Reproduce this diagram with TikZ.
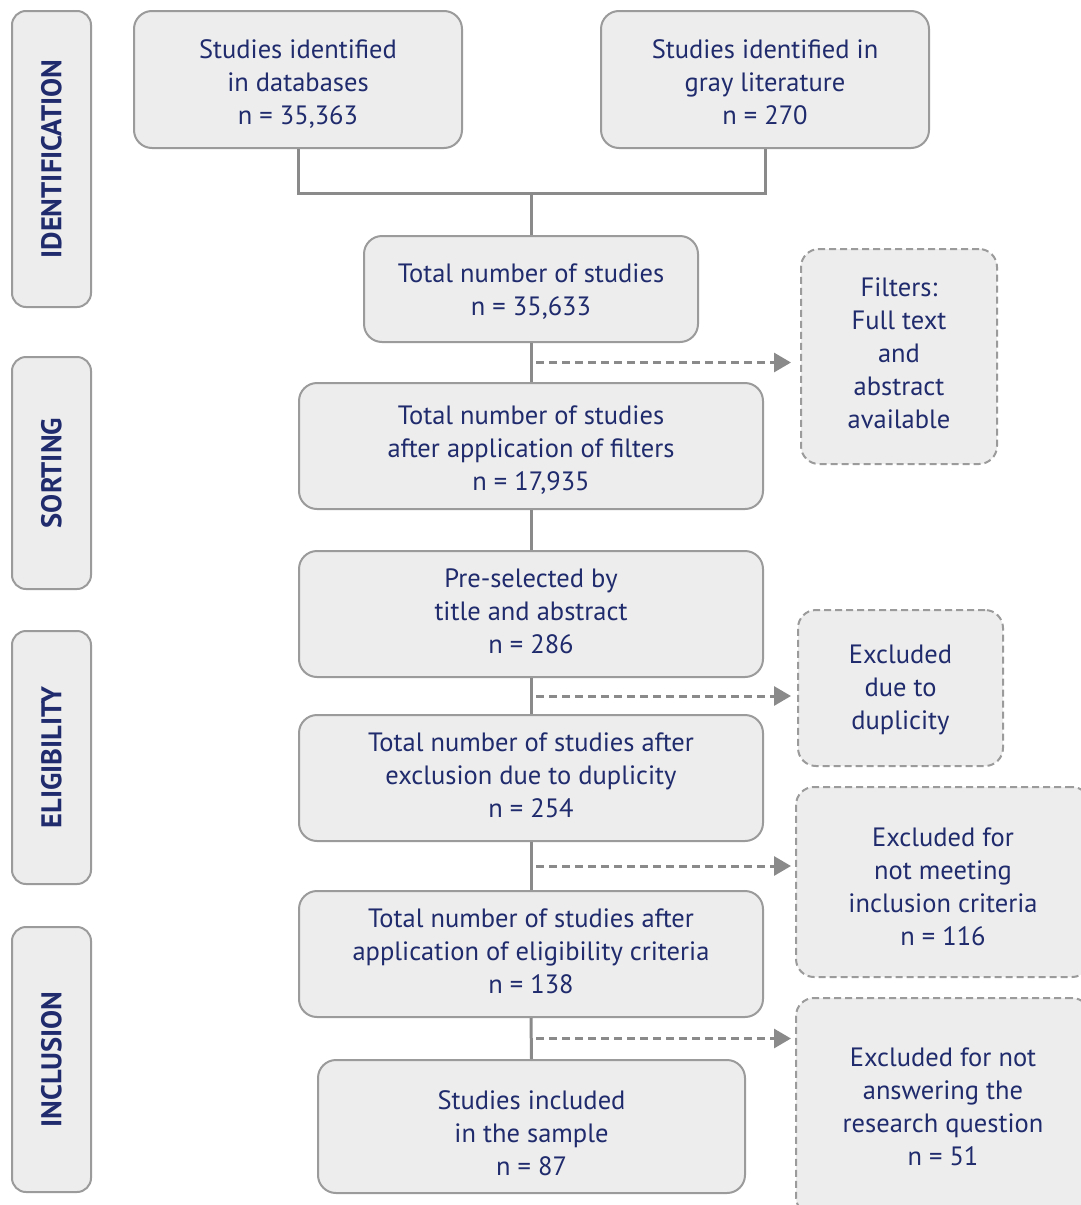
\documentclass[tikz,border=0pt]{standalone}
\usepackage{fontspec}
\setmainfont{PT Sans}
\usetikzlibrary{arrows.meta,calc,backgrounds}
\definecolor{navy}{HTML}{1F2B6C}
\definecolor{boxfill}{HTML}{EDEDED}
\definecolor{boxline}{HTML}{9B9B9B}
\definecolor{conn}{HTML}{8A8A8A}
\begin{document}
\begin{tikzpicture}[x=1pt,y=-1pt,
  box/.style={draw=boxline, line width=2pt, fill=boxfill, rounded corners=18pt, align=center, text=navy, font=\fontsize{26.5}{33}\selectfont, inner sep=0pt, text depth=0pt},
  th/.style={text height=#1pt},
  dbox/.style={box, dash pattern=on 7pt off 4pt},
  side/.style={draw=boxline, line width=2pt, fill=boxfill, rounded corners=14pt, text=navy, font=\fontsize{28.5}{30}\selectfont\bfseries, inner sep=0pt, rotate=90, minimum height=79pt},
  conn/.style={draw=conn, line width=3pt},
  darrow/.style={draw=conn, line width=3pt, dash pattern=on 8pt off 5pt, -{Triangle[length=17pt,width=19pt]}}]
\useasboundingbox (0,0) rectangle (1080,1205);
% side labels
\node[side, minimum width=296pt] (sid) at (51.5,159) {IDENTIFICATION};
\node[side, minimum width=232pt] (sso) at (51.5,473) {SORTING};
\node[side, minimum width=253pt] (sel) at (51.5,757.5) {ELIGIBILITY};
\node[side, minimum width=265pt] (sin) at (51.5,1059.5) {INCLUSION};
% main boxes
\node[box, th=89, minimum width=328pt, minimum height=137pt] (db) at (298,79.5) {Studies identified\\in databases\\n = 35,363};
\node[box, th=89, minimum width=328pt, minimum height=137pt] (gl) at (765,79.5) {Studies identified in\\gray literature\\n = 270};
\node[box, th=52, minimum width=334pt, minimum height=106pt] (tot) at (531,289) {Total number of studies\\n = 35,633};
\node[box, th=89, minimum width=464pt, minimum height=126pt] (flt) at (531,446) {Total number of studies\\after application of filters\\n = 17,935};
\node[box, th=78, minimum width=464pt, minimum height=126pt] (pre) at (531,614) {Pre-selected by\\title and abstract\\n = 286};
\node[box, th=79, minimum width=464pt, minimum height=126pt] (dup) at (531,778) {Total number of studies after\\exclusion due to duplicity\\n = 254};
\node[box, th=78, minimum width=464pt, minimum height=126pt] (elg) at (531,954) {Total number of studies after\\application of eligibility criteria\\n = 138};
\node[box, th=98, minimum width=427pt, minimum height=133pt] (inc) at (531.5,1126.5) {Studies included\\in the sample\\n = 87};
% dashed boxes
\node[dbox, th=144, minimum width=196pt, minimum height=215pt] (xfl) at (899,356.5) {Filters:\\Full text\\and\\abstract\\available};
\node[dbox, th=83, minimum width=205pt, minimum height=156pt] (xdu) at (900.5,688) {Excluded\\due to\\duplicity};
\node[dbox, th=127, minimum width=294pt, minimum height=190pt] (xin) at (943,882) {Excluded for\\not meeting\\inclusion criteria\\n = 116};
\node[dbox, th=117, minimum width=294pt, minimum height=217pt] (xrq) at (943,1106.5) {Excluded for not\\answering the\\research question\\n = 51};
% connectors
\coordinate (j) at (531,193);
\draw[conn] (db.south) |- (j) -| (gl.south);
\draw[conn] (j) -- (tot.north);
\draw[conn] (tot.south) -- (flt.north);
\draw[conn] (flt.south) -- (pre.north);
\draw[conn] (pre.south) -- (dup.north);
\draw[conn] (dup.south) -- (elg.north);
\draw[conn] (elg.south) -- (inc.north);
\coordinate (m1) at ($(tot.south)!0.5!(flt.north)$);
\coordinate (m2) at ($(pre.south)!0.5!(dup.north)$);
\coordinate (m3) at ($(dup.south)!0.5!(elg.north)$);
\coordinate (m4) at ($(elg.south)!0.5!(inc.north)$);
\draw[darrow] ([xshift=5pt]m1) -- ([xshift=-9pt]m1 -| xfl.west);
\draw[darrow] ([xshift=5pt]m2) -- ([xshift=-6pt]m2 -| xdu.west);
\draw[darrow] ([xshift=5pt]m3) -- ([xshift=-4pt]m3 -| xin.west);
\draw[darrow] ([xshift=5pt]m4) -- ([xshift=-4pt]m4 -| xrq.west);
\end{tikzpicture}
\end{document}
